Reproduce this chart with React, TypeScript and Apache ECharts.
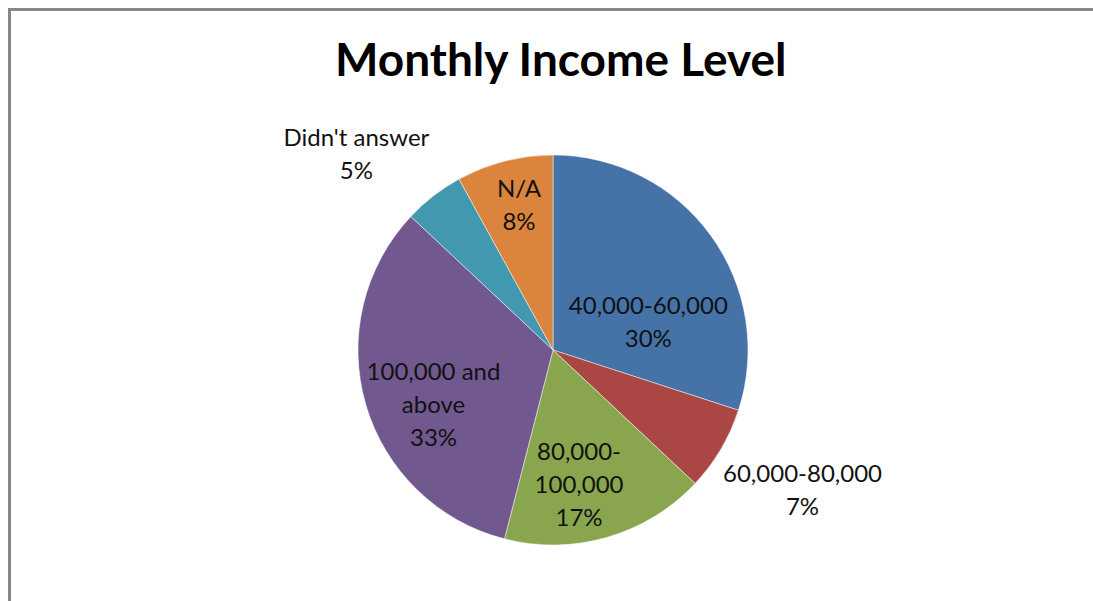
import React, { useEffect, useRef } from "react";
import * as echarts from "echarts";

const title = "Monthly Income Level";
const categories = [
  "40,000-60,000",
  "60,000-80,000",
  "80,000-100,000",
  "100,000 and above",
  "Didn't answer",
  "N/A",
];
const labelNames = [
  "40,000-60,000",
  "60,000-80,000",
  "80,000-\n100,000",
  "100,000 and\nabove",
  "Didn't answer",
  "N/A",
];
const values = [30, 7, 17, 33, 5, 8];

const colors = ["#4572A7", "#AA4643", "#89A54E", "#71588F", "#4198AF", "#DB843D"];
const labelShift = [
  [14, 30],
  [163, 88],
  [-2, 37],
  [-23, 25],
  [-135, -118],
  [-9, -49],
];

export default function App() {
  const ref = useRef<HTMLDivElement>(null);
  useEffect(() => {
    if (!ref.current) return;
    const chart = echarts.init(ref.current, null, { renderer: "svg" });
    const font = "Lato, 'Open Sans', sans-serif";
    chart.setOption({
      animation: false,
      backgroundColor: "#ffffff",
      title: {
        text: title,
        left: 330,
        top: 30,
        itemGap: 0,
        textStyle: { fontFamily: font, fontWeight: "bold", fontSize: 46, color: "#000" },
      },
      graphic: [
        {
          type: "rect",
          shape: { x: 9.5, y: 9.5, width: 2000, height: 2000 },
          style: { fill: "none", stroke: "#878787", lineWidth: 3 },
          silent: true,
        },
      ],
      series: [
        {
          type: "pie",
          center: [553, 350],
          radius: [0, 195],
          startAngle: 90,
          clockwise: true,
          percentPrecision: 0,
          data: categories.map((c, i) => ({
            name: c,
            value: values[i],
            itemStyle: { color: colors[i] },
          })),
          itemStyle: { borderColor: "rgba(255,255,255,0.6)", borderWidth: 0.8 },
          label: {
            show: true,
            position: "inside",
            formatter: (p: any) => `${labelNames[p.dataIndex]}\n${p.percent}%`,
            fontFamily: font,
            fontSize: 24,
            lineHeight: 33,
            color: "#111",
            align: "center",
          },
          labelLine: { show: false },
          labelLayout: (p: any) => ({
            dx: labelShift[p.dataIndex][0],
            dy: labelShift[p.dataIndex][1],
          }),
          emphasis: { disabled: true },
        },
      ],
    });
    return () => chart.dispose();
  }, []);
  return (
    <div
      ref={ref}
      style={{ position: "fixed", left: 0, top: 0, width: 1093, height: 601 }}
    />
  );
}
